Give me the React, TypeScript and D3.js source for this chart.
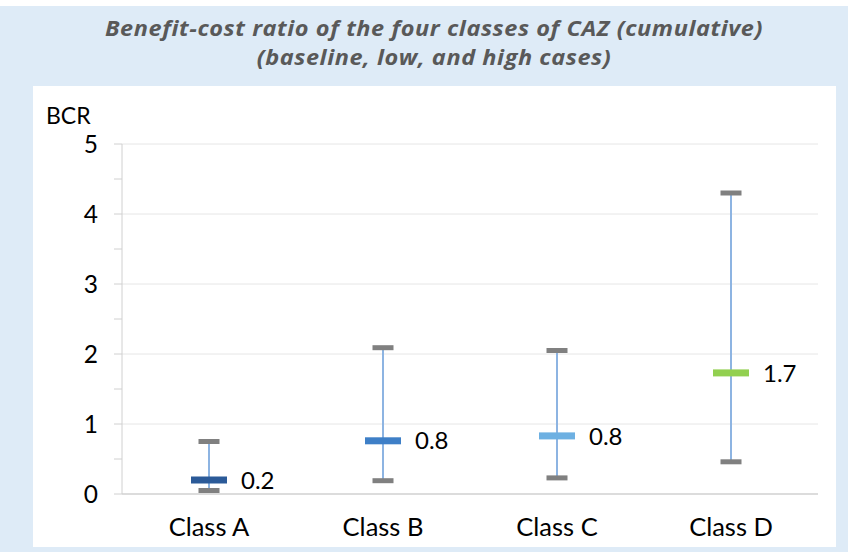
import React from "react";
import * as d3 from "d3";

// chart values
const categories = ["Class A", "Class B", "Class C", "Class D"];
const baseCase = [0.2, 0.76, 0.83, 1.73];
const lowCase = [0.05, 0.19, 0.23, 0.46];
const highCase = [0.75, 2.09, 2.05, 4.3];
const valueLabels = ["0.2", "0.8", "0.8", "1.7"];
const barColors = ["#2b5a98", "#3e7fc7", "#6db0e2", "#92d050"];
const yTicks = [0, 1, 2, 3, 4, 5];
const yMinorTicks = d3.range(0, 5.01, 0.5);

const titleLines = [
  "Benefit-cost ratio of the four classes of CAZ (cumulative)",
  "(baseline, low, and high cases)",
];

const width = 848;
const height = 552;
const font = "Lato, 'Open Sans', sans-serif";

const App = () => {
  // plot area
  const margin = { top: 144, right: 30, bottom: 58, left: 122 };

  const x = d3
    .scaleBand()
    .domain(categories)
    .range([margin.left, width - margin.right])
    .padding(0);

  const y = d3
    .scaleLinear()
    .domain([0, 5])
    .range([height - margin.bottom, margin.top]);

  const capW = 21;
  const capH = 5;
  const barW = 36;
  const barH = 7;

  return (
    <svg
      width={width}
      height={height}
      style={{ position: "absolute", left: 0, top: 0 }}
      fontFamily={font}
    >
      <rect x={0} y={0} width={width} height={height} fill="#ffffff" />
      <rect x={0} y={6} width={width} height={height - 6} fill="#deebf7" />
      <rect x={33} y={86} width={803} height={461} fill="#ffffff" />

      {/* title - a bit stretched sideways to get the wide look */}
      <g transform="translate(434,0) scale(1.12,1)">
        {titleLines.map((t, i) => (
          <text
            key={i}
            x={0}
            y={36 + i * 29}
            textAnchor="middle"
            fontFamily="'Open Sans', sans-serif"
            fontSize={21}
            letterSpacing={0.5}
            fontWeight="bold"
            fontStyle="italic"
            fill="#595959"
          >
            {t}
          </text>
        ))}
      </g>

      {/* gridlines */}
      {yTicks.slice(1).map((t) => (
        <line
          key={t}
          x1={margin.left}
          x2={width - margin.right}
          y1={y(t)}
          y2={y(t)}
          stroke="#e6e6e6"
          strokeWidth={1}
        />
      ))}

      {/* y axis */}
      <line
        x1={margin.left}
        x2={margin.left}
        y1={y(5)}
        y2={y(0)}
        stroke="#d0d0d0"
        strokeWidth={1}
      />
      {yMinorTicks.map((t) => (
        <line
          key={t}
          x1={margin.left - 8}
          x2={margin.left}
          y1={y(t)}
          y2={y(t)}
          stroke="#d0d0d0"
          strokeWidth={1}
        />
      ))}
      {yTicks.map((t) => (
        <text
          key={t}
          x={98}
          y={y(t)}
          dy="0.36em"
          textAnchor="end"
          fontSize={24.5}
          fill="#000000"
        >
          {t}
        </text>
      ))}
      <text x={46} y={124} fontSize={23} fill="#000000">
        BCR
      </text>

      {/* x axis */}
      <line
        x1={margin.left}
        x2={width - margin.right}
        y1={y(0)}
        y2={y(0)}
        stroke="#d0d0d0"
        strokeWidth={1.5}
      />
      {categories.map((c) => (
        <text
          key={c}
          x={(x(c) as number) + x.bandwidth() / 2}
          y={536}
          textAnchor="middle"
          fontSize={25.5}
          fill="#000000"
        >
          {c}
        </text>
      ))}

      {/* error bars */}
      {categories.map((c, i) => {
        const cx = (x(c) as number) + x.bandwidth() / 2;
        return (
          <g key={c}>
            <line
              x1={cx}
              x2={cx}
              y1={y(highCase[i])}
              y2={y(lowCase[i])}
              stroke="#8db4e2"
              strokeWidth={2}
            />
            <rect
              x={cx - capW / 2}
              y={y(highCase[i]) - capH / 2}
              width={capW}
              height={capH}
              fill="#808080"
            />
            <rect
              x={cx - capW / 2}
              y={y(lowCase[i]) - capH / 2}
              width={capW}
              height={capH}
              fill="#808080"
            />
            <rect
              x={cx - barW / 2}
              y={y(baseCase[i]) - barH / 2}
              width={barW}
              height={barH}
              fill={barColors[i]}
            />
            <text
              x={cx + 32}
              y={y(baseCase[i])}
              dy="0.36em"
              fontSize={24}
              fill="#000000"
            >
              {valueLabels[i]}
            </text>
          </g>
        );
      })}
    </svg>
  );
};

export default App;
